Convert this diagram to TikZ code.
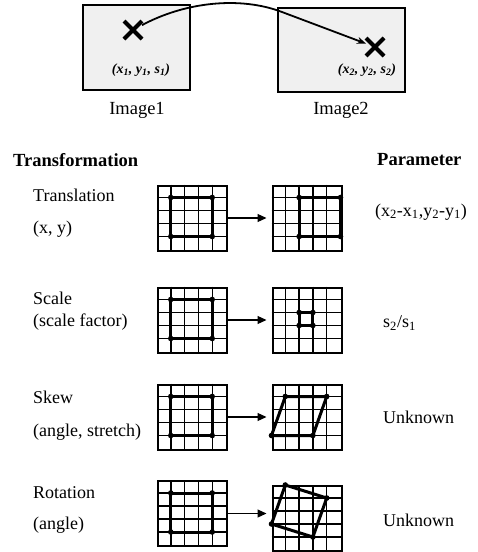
\documentclass[tikz,border=0pt]{standalone}
\usepackage{fontspec}
\setmainfont{Liberation Serif}
\usetikzlibrary{arrows.meta,shapes.misc}
\newcommand\mygridlines{\foreach \i in {1,...,4}{\draw[gline] (\i,0) -- (\i,5); \draw[gline] (0,\i) -- (5,\i);}}
\begin{document}
\begin{tikzpicture}[x=1pt,y=-1pt,
  imgbox/.style={draw=black, line width=1.2pt, fill=gray!12, inner sep=0pt},
  crossmark/.style={cross out, draw=black, line width=4pt, minimum size=14pt, inner sep=0pt},
  lbl/.style={font=\fontsize{18}{20}\selectfont, inner sep=0pt, anchor=west},
  imgcaption/.style={font=\fontsize{18.5}{20}\selectfont, inner sep=0pt},
  head/.style={font=\bfseries\fontsize{18.5}{20}\selectfont, inner sep=0pt, anchor=west},
  small/.style={font=\bfseries\itshape\fontsize{14}{15}\selectfont, inner sep=0pt},
  gridnode/.style={draw=black, line width=2pt, minimum width=69pt, minimum height=65pt, inner sep=0pt},
  gline/.style={line width=1.4pt},
  shapeline/.style={line width=3pt, line join=round},
  tarrow/.style={line width=1.2pt, -{Triangle[length=9pt,width=8pt]}, shorten >=5pt},
  curvearrow/.style={line width=1.8pt, -{Stealth[length=9pt,width=7pt]}},
  gridscope/.style={x=13.8pt, y=-13pt},
]
\useasboundingbox (0,0) rectangle (477,552);

% top images
\node[imgbox, minimum width=107pt, minimum height=85pt] (img1) at (136.5,47.5) {};
\node[imgbox, minimum width=127pt, minimum height=84pt] (img2) at (341.5,50) {};
\node[crossmark] (x1) at (133,30) {};
\node[crossmark] (x2) at (375,47) {};
\node[small] (l1) at (141,70) {(x\textsubscript{1}, y\textsubscript{1}, s\textsubscript{1})};
\node[small] (l2) at (367,70) {(x\textsubscript{2}, y\textsubscript{2}, s\textsubscript{2})};
\draw[curvearrow] (x1) .. controls (185,2) and (240,-4) .. (282,12) -- (x2);
\node[imgcaption] (im1lab) at (137,110) {Image1};
\node[imgcaption] (im2lab) at (341,110) {Image2};

% headings
\node[head] (thead) at (13,160) {Transformation};
\node[head] (phead) at (377,160) {Parameter};

% left labels
\node[lbl] (t1) at (33,195) {Translation};
\node[lbl] (t1p) at (33,229) {(x, y)};
\node[lbl] (t2) at (33,298) {Scale};
\node[lbl] (t2p) at (33,322) {(scale factor)};
\node[lbl] (t3) at (33,397) {Skew};
\node[lbl] (t3p) at (33,432) {(angle, stretch)};
\node[lbl] (t4) at (33,493) {Rotation};
\node[lbl] (t4p) at (33,525) {(angle)};

% parameters
\node[lbl] (p1) at (375,212) {(x\textsubscript{2}-x\textsubscript{1},y\textsubscript{2}-y\textsubscript{1})};
\node[lbl] (p2) at (383,323) {s\textsubscript{2}/s\textsubscript{1}};
\node[lbl] (p3) at (383,417) {Unknown};
\node[lbl] (p4) at (383,520) {Unknown};

% grids
\node[gridnode] (g1l) at (192.5,218) {};
\node[gridnode] (g1r) at (307,218) {};
\node[gridnode] (g2l) at (192.5,320) {};
\node[gridnode] (g2r) at (307,320) {};
\node[gridnode] (g3l) at (192.5,417) {};
\node[gridnode] (g3r) at (307,417) {};
\node[gridnode] (g4l) at (192.5,513.5) {};
\node[gridnode] (g4r) at (307,518.5) {};

% left grids: same square
\foreach \g in {g1l,g2l,g3l,g4l}{
  \begin{scope}[shift={(\g.north west)}, gridscope]
    \mygridlines
    \draw[shapeline] (1,1) rectangle (4,4);
    \foreach \p in {(1,1),(4,1),(1,4),(4,4)} \fill \p circle (2.8pt);
  \end{scope}
}
% translation
\begin{scope}[shift={(g1r.north west)}, gridscope]
  \mygridlines
  \draw[shapeline] (2,1) rectangle (5,4);
  \foreach \p in {(2,1),(5,1),(2,4),(5,4)} \fill \p circle (2.8pt);
\end{scope}
% scale
\begin{scope}[shift={(g2r.north west)}, gridscope]
  \mygridlines
  \draw[shapeline] (2,2) rectangle (3,3);
  \foreach \p in {(2,2),(3,2),(2,3),(3,3)} \fill \p circle (2.8pt);
\end{scope}
% skew
\begin{scope}[shift={(g3r.north west)}, gridscope]
  \mygridlines
  \draw[shapeline] (0,4) -- (1,1) -- (4,1) -- (3,4) -- cycle;
  \foreach \p in {(0,4),(1,1),(4,1),(3,4)} \fill \p circle (2.8pt);
\end{scope}
% rotation
\begin{scope}[shift={(g4r.north west)}, gridscope]
  \mygridlines
  \draw[shapeline] (1,0) -- (4,1) -- (3,4) -- (0,3) -- cycle;
  \foreach \p in {(1,0),(4,1),(3,4),(0,3)} \fill \p circle (2.8pt);
\end{scope}

% arrows
\draw[tarrow] (g1l.east) -- (g1l.east -| g1r.west);
\draw[tarrow] (g2l.east) -- (g2l.east -| g2r.west);
\draw[tarrow] (g3l.east) -- (g3l.east -| g3r.west);
\draw[tarrow] (g4l.east) -- (g4l.east -| g4r.west);
\end{tikzpicture}
\end{document}
